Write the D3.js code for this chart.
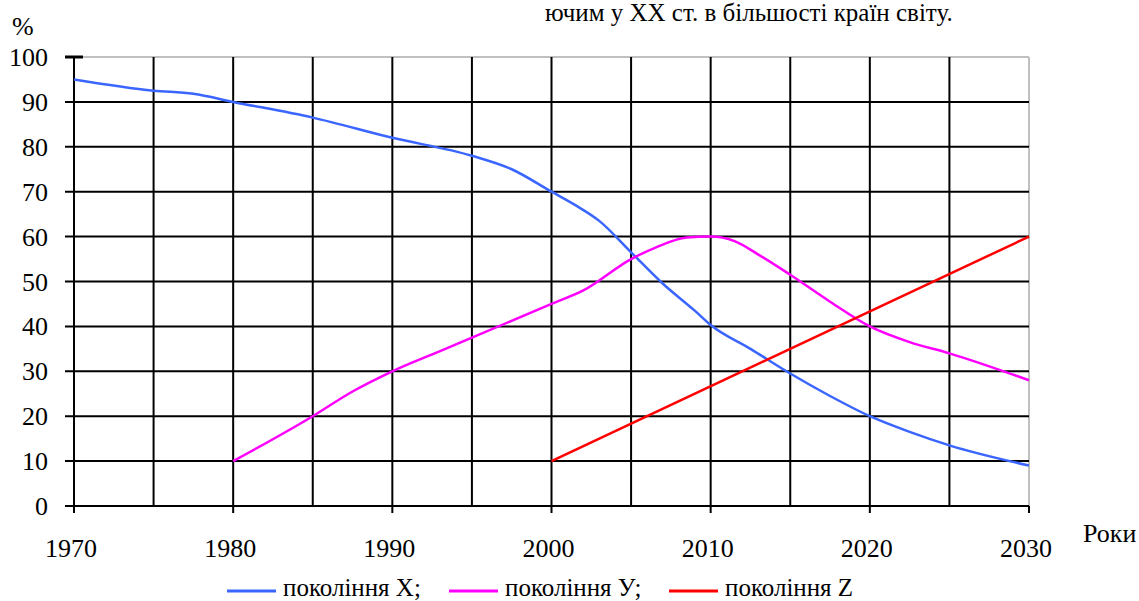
<!DOCTYPE html>
<html>
<head>
<meta charset="utf-8">
<script src="https://cdn.jsdelivr.net/npm/d3@7"></script>
</head>
<body style="margin:0">
<svg width="1139" height="601" font-family="Liberation Serif"></svg>
<script>
// values
const genXYears = [1970, 1975, 1977.5, 1980, 1985, 1990, 1995, 1997.5, 2000, 2001.5, 2003, 2005, 2007, 2009, 2010, 2012.5, 2015, 2017.5, 2020, 2022.5, 2025, 2030];
const genXValues = [95, 92.5, 91.8, 90, 86.5, 82, 78, 75, 70, 67, 63.5, 56.5, 49.5, 43.5, 40.3, 35, 29.5, 24.5, 20, 16.5, 13.5, 9];
const genYYears = [1980, 1985, 1987.5, 1990, 1993, 1995, 2000, 2002, 2005, 2006.5, 2008.5, 2010, 2011.5, 2013, 2015, 2017.5, 2020, 2022.5, 2025, 2030];
const genYValues = [10, 20, 25.5, 30, 34.5, 37.5, 45, 48, 55, 57.5, 59.8, 60, 59, 56, 51.5, 45.5, 40, 36.5, 34, 28];
const genZYears = [2000, 2030];
const genZValues = [10, 60];
const yTicks = [0, 10, 20, 30, 40, 50, 60, 70, 80, 90, 100];
const xTicks = [1970, 1980, 1990, 2000, 2010, 2020, 2030];
const gridYears = [1975, 1980, 1985, 1990, 1995, 2000, 2005, 2010, 2015, 2020, 2025];
const seriesNames = ["покоління X;", "покоління У;", "покоління Z"];
const seriesColors = ["#3a66ff", "#ff00ff", "#ff0000"];

const svg = d3.select("svg");
const plotLeft = 74, plotRight = 1029, plotTop = 57, plotBottom = 506;

const x = d3.scaleLinear().domain([1970, 2030]).range([plotLeft, plotRight]);
const y = d3.scaleLinear().domain([0, 100]).range([plotBottom, plotTop]);

function label(sel, size) {
    return sel.append("text")
        .attr("font-family", "Liberation Serif")
        .style("font-family", "Liberation Serif")
        .attr("font-size", size)
        .attr("fill", "#000");
}

// caption line carried over from the page above
label(svg, 25)
    .attr("x", 545).attr("y", 21)
    .text("ючим у XX ст. в більшості країн світу.");

const grid = svg.append("g");

// gray outer frame (top & right)
grid.append("line")
    .attr("x1", plotLeft).attr("x2", plotRight).attr("y1", y(100)).attr("y2", y(100))
    .attr("stroke", "#c0c0c0").attr("stroke-width", 2);
grid.append("line")
    .attr("x1", plotRight).attr("x2", plotRight).attr("y1", plotTop).attr("y2", plotBottom)
    .attr("stroke", "#c0c0c0").attr("stroke-width", 2);

// horizontal grid lines
grid.selectAll(".hgrid")
    .data(yTicks.filter(d => d > 0 && d < 100))
    .enter().append("line")
    .attr("x1", plotLeft - 9).attr("x2", plotRight)
    .attr("y1", d => y(d)).attr("y2", d => y(d))
    .attr("stroke", "#000").attr("stroke-width", 2);

// vertical grid lines
grid.selectAll(".vgrid")
    .data(gridYears)
    .enter().append("line")
    .attr("x1", d => x(d)).attr("x2", d => x(d))
    .attr("y1", plotTop).attr("y2", d => d % 10 === 0 ? plotBottom + 7 : plotBottom)
    .attr("stroke", "#000").attr("stroke-width", 2);

// axes
grid.append("line")
    .attr("x1", plotLeft).attr("x2", plotLeft).attr("y1", plotTop).attr("y2", plotBottom + 7)
    .attr("stroke", "#000").attr("stroke-width", 2);
grid.append("line")
    .attr("x1", plotLeft - 9).attr("x2", plotRight).attr("y1", plotBottom).attr("y2", plotBottom)
    .attr("stroke", "#000").attr("stroke-width", 2);
grid.append("line")
    .attr("x1", plotLeft - 9).attr("x2", plotLeft + 9).attr("y1", y(100)).attr("y2", y(100))
    .attr("stroke", "#000").attr("stroke-width", 3);
grid.append("line")
    .attr("x1", plotRight).attr("x2", plotRight).attr("y1", plotBottom).attr("y2", plotBottom + 7)
    .attr("stroke", "#000").attr("stroke-width", 2);

// tick labels
yTicks.forEach(v => {
    label(svg, 26)
        .attr("x", 48).attr("y", y(v) + 9)
        .attr("text-anchor", "end")
        .text(v);
});

xTicks.forEach(v => {
    label(svg, 26)
        .attr("x", x(v) - 3).attr("y", 557)
        .attr("text-anchor", "middle")
        .text(v);
});

label(svg, 26).attr("x", 12).attr("y", 35).text("%");
label(svg, 26).attr("x", 1083).attr("y", 542).text("Роки");

// series
const line = d3.line()
    .x(d => x(d[0]))
    .y(d => y(d[1]))
    .curve(d3.curveMonotoneX);

const series = [
    d3.zip(genXYears, genXValues),
    d3.zip(genYYears, genYValues),
    d3.zip(genZYears, genZValues)
];

svg.selectAll(".series")
    .data(series)
    .enter().append("path")
    .attr("d", line)
    .attr("fill", "none")
    .attr("stroke", (d, i) => seriesColors[i])
    .attr("stroke-width", 2.5);

// legend
const legendX = [227, 449, 669];
seriesNames.forEach((name, i) => {
    const g = svg.append("g").attr("transform", `translate(${legendX[i]},591)`);
    g.append("line")
        .attr("x1", 0).attr("x2", 49).attr("y1", 0).attr("y2", 0)
        .attr("stroke", seriesColors[i]).attr("stroke-width", 3);
    label(g, 25)
        .attr("x", 56).attr("y", 5)
        .text(name);
});
</script>
</body>
</html>
